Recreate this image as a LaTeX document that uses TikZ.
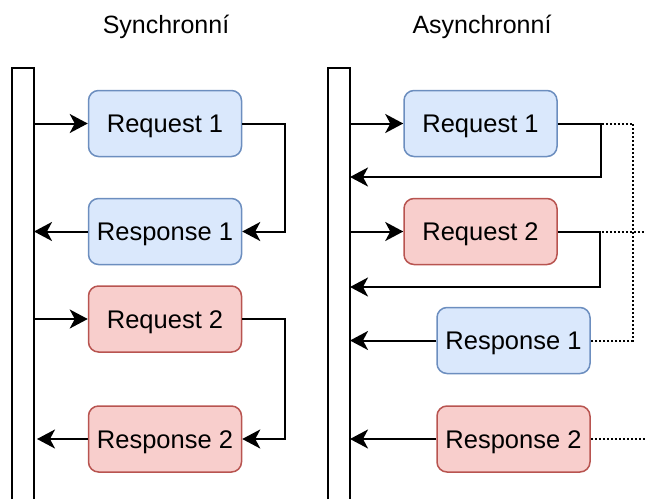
\documentclass[tikz,border=0pt]{standalone}
\usepackage{fontspec}
\setmainfont{Liberation Sans}
\usetikzlibrary{arrows.meta}
\definecolor{bfill}{HTML}{DAE8FC}
\definecolor{bdraw}{HTML}{6C8EBF}
\definecolor{rfill}{HTML}{F8CECC}
\definecolor{rdraw}{HTML}{B85450}
\begin{document}
\begin{tikzpicture}[x=1pt,y=-1pt,
  box/.style={draw, rounded corners=10pt, line width=1.5pt,
    minimum width=153pt, minimum height=66pt, inner sep=0pt,
    font=\fontsize{25.5}{30}\selectfont, text height=18pt, text depth=0pt},
  bluebox/.style={box, fill=bfill, draw=bdraw},
  redbox/.style={box, fill=rfill, draw=rdraw},
  title/.style={font=\fontsize{25}{30}\selectfont, anchor=base},
  flow/.style={line width=2pt, -{Stealth[length=18pt,width=19pt,inset=5pt]}},
  link/.style={line width=2pt, dash pattern=on 2pt off 2pt},
  lane/.style={line width=2pt}]
\useasboundingbox (0,0) rectangle (646,499);

% titles
\node[title] (tsync) at (166,33) {Synchronní};
\node[title] (tasync) at (482,33) {Asynchronní};

% client lanes
\draw[lane] (12,499) -- (12,68) -- (34,68) -- (34,499);
\draw[lane] (328,499) -- (328,68) -- (350,68) -- (350,499);

% synchronous side
\node[bluebox] (s1) at (165,123.5) {Request 1};
\node[bluebox] (s2) at (165,231.5) {Response 1};
\node[redbox]  (s3) at (165,319) {Request 2};
\node[redbox]  (s4) at (165,439) {Response 2};

\coordinate (l1) at (34,123.5);
\coordinate (l2) at (34,231.5);
\coordinate (l3) at (34,319);
\coordinate (l4) at (37,439);
\coordinate (sk1) at (285,231.5);
\coordinate (sk2) at (285,439);

\draw[flow] (l1) -- (s1.west);
\draw[flow] (s1.east) -| (sk1) -- (s2.east);
\draw[flow] (s2.west) -- (l2);
\draw[flow] (l3) -- (s3.west);
\draw[flow] (s3.east) -| (sk2) -- (s4.east);
\draw[flow] (s4.west) -- (l4);

% asynchronous side
\node[bluebox] (a1) at (480.5,123.5) {Request 1};
\node[redbox]  (a2) at (480.5,231.5) {Request 2};
\node[bluebox] (b1) at (513.5,340.5) {Response 1};
\node[redbox]  (b2) at (513.5,439) {Response 2};

\coordinate (r1) at (350,123.5);
\coordinate (r1b) at (350,177);
\coordinate (r2) at (350,231.5);
\coordinate (r2b) at (350,287);
\coordinate (r3) at (350,340.5);
\coordinate (r4) at (350,439);
\coordinate (ak1) at (601,177);
\coordinate (ak2) at (600,287);
\coordinate (d1) at (633,340.5);
\coordinate (d2) at (646,231.5);
\coordinate (d3) at (646,439);

\draw[flow] (r1) -- (a1.west);
\draw[flow] (a1.east) -| (ak1) -- (r1b);
\draw[flow] (r2) -- (a2.west);
\draw[flow] (a2.east) -| (ak2) -- (r2b);
\draw[flow] (b1.west) -- (r3);
\draw[flow] (b2.west) -- (r4);

\draw[link] (a1.east) -| (d1) -- (b1.east);
\draw[link] (a2.east) -- (d2);
\draw[link] (b2.east) -- (d3);
\end{tikzpicture}
\end{document}
